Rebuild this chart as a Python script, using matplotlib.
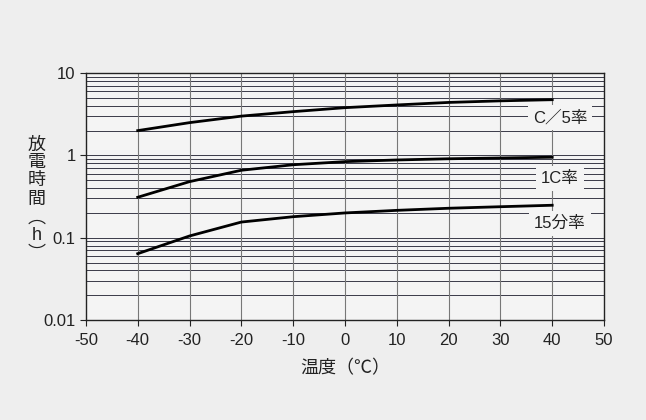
import matplotlib.pyplot as plt
import numpy as np

plt.rcParams['font.family'] = ['Liberation Sans', 'Noto Sans CJK JP', 'DejaVu Sans']

temps = [-40, -30, -20, -10, 0, 10, 20, 30, 40]
rate_c5 = [2.0, 2.5, 3.0, 3.4, 3.8, 4.1, 4.4, 4.6, 4.75]
rate_1c = [0.31, 0.48, 0.66, 0.77, 0.84, 0.88, 0.91, 0.93, 0.95]
rate_15m = [0.064, 0.105, 0.155, 0.18, 0.2, 0.215, 0.228, 0.238, 0.248]
labels = ['C／5率', '1C率', '15分率']
label_y = [2.9, 0.53, 0.15]

xticks = [-50, -40, -30, -20, -10, 0, 10, 20, 30, 40, 50]

fig = plt.figure(figsize=(6.46, 4.2), dpi=100)
fig.patch.set_facecolor('#eeeeee')
ax = fig.add_axes([0.133, 0.238, 0.802, 0.588])
ax.set_facecolor('#f4f4f4')

ax.set_yscale('log')
ax.set_xlim(-50, 50)
ax.set_ylim(0.01, 10)

# horizontal grid on every log step
for dec in [0.01, 0.1, 1]:
    for m in range(1, 10):
        ax.axhline(dec * m, color='#3a3a48', lw=0.7, zorder=1)
for x in xticks[1:-1]:
    ax.axvline(x, color='#777777', lw=0.8, zorder=1)

for vals in [rate_c5, rate_1c, rate_15m]:
    ax.plot(temps, vals, color='black', lw=2.0, zorder=3)

for lab, y in zip(labels, label_y):
    ax.text(41.5, y, lab, ha='center', va='center', fontsize=12, color='#222222', zorder=4,
            bbox=dict(boxstyle='square,pad=0.3', fc='#f4f4f4', ec='none'))

ax.set_xticks(xticks)
ax.set_xticklabels([str(x) for x in xticks])
ax.set_yticks([0.01, 0.1, 1, 10])
ax.set_yticklabels(['0.01', '0.1', '1', '10'])
ax.minorticks_off()
ax.tick_params(axis='both', labelsize=12, colors='#222222', length=4, width=0.8)
ax.tick_params(axis='x', pad=5)
for s in ax.spines.values():
    s.set_color('#222222')
    s.set_linewidth(1.0)

ax.set_xlabel('温度（℃）', fontsize=13, color='#222222', labelpad=9)

# vertical y label, one character at a time
ylab_chars = ['放', '電', '時', '間', '︵', 'h', '︶']
ylab_pix = [145, 163, 181, 199, 218, 236, 254]
for ch, py in zip(ylab_chars, ylab_pix):
    fig.text(0.057, 1 - py / 420, ch, ha='center', va='center',
             fontsize=13, color='#222222')

fig.savefig('out.png', dpi=100, facecolor=fig.get_facecolor())
